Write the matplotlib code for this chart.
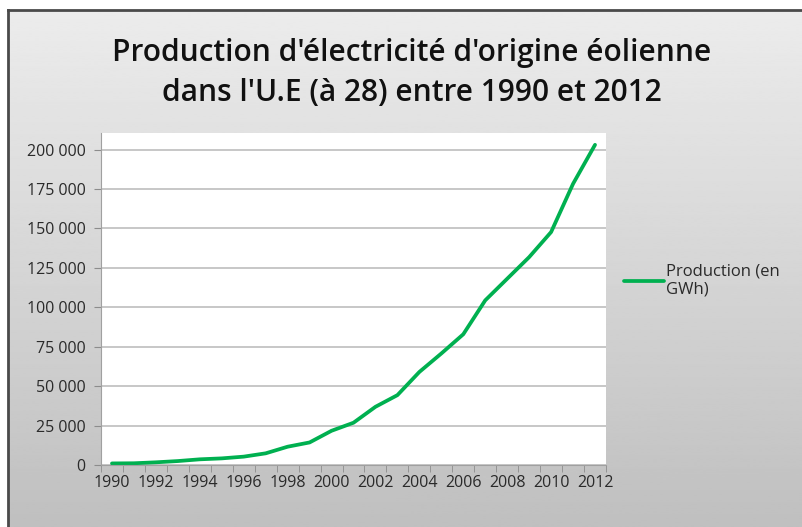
import numpy as np
import matplotlib.pyplot as plt

# Données
annees = list(range(1990, 2013))
production = [1000, 1100, 1700, 2500, 3600, 4200, 5300, 7400, 11600, 14300,
              21700, 26800, 36900, 44300, 59000, 70700, 82900, 104400, 118100,
              131800, 147700, 178300, 203000]
yticks = [0, 25000, 50000, 75000, 100000, 125000, 150000, 175000, 200000]
titre = "Production d'électricité d'origine éolienne\ndans l'U.E (à 28) entre 1990 et 2012"
legende = "Production (en\nGWh)"

plt.rcParams['font.family'] = ['Open Sans', 'DejaVu Sans']

W, H = 803, 527
fig = plt.figure(figsize=(W / 100, H / 100), dpi=100)

# fond dégradé gris
bg = fig.add_axes([0, 0, 1, 1])
bg.set_xlim(0, W)
bg.set_ylim(H, 0)
bg.axis("off")
grad = np.linspace(0.925, 0.75, 256).reshape(-1, 1)
bg.imshow(grad, cmap="gray", vmin=0, vmax=1, extent=[8, W, H, 10], aspect="auto")
bg.plot([8, 8], [H, 10], color="#4a4a4a", lw=2)
bg.plot([8, W], [10, 10], color="#4a4a4a", lw=2)

# titre
fig.text(412 / W, 1 - 73 / H, titre, ha="center", va="center", fontsize=21.5,
         fontweight="semibold", linespacing=1.45, color="#111111")

ax = fig.add_axes([101 / W, 1 - 465 / H, (606 - 101) / W, (465 - 133) / H])
x = np.arange(len(annees))
ax.plot(x, production, color="#00b050", lw=2.7, label=legende, solid_capstyle="round")

ax.set_xlim(-0.5, len(annees) - 0.5)
ax.set_ylim(0, 210500)
ax.set_yticks(yticks)
ax.set_yticklabels([f"{v:,}".replace(",", " ") for v in yticks], fontsize=11.5, color="#2a2a2a")
ax.set_xticks(x[::2])
ax.set_xticklabels([str(a) for a in annees[::2]], fontsize=11.5, color="#2a2a2a")
ax.set_xticks(np.arange(-0.5, len(annees)), minor=True)
ax.tick_params(axis="x", which="major", length=0, pad=7)
ax.tick_params(axis="x", which="minor", length=5, color="#8c8c8c")
ax.tick_params(axis="y", length=5, color="#8c8c8c", pad=6)
ax.grid(axis="y", color="#b8b8b8", lw=1.1)
ax.set_axisbelow(True)
for s in ["top", "right"]:
    ax.spines[s].set_visible(False)
for s in ["left", "bottom"]:
    ax.spines[s].set_color("#a0a0a0")

leg = ax.legend(loc="center left", bbox_to_anchor=(1.005, 0.555), frameon=False,
                fontsize=12, handlelength=2.4, handletextpad=0.12, labelcolor="#2a2a2a")

fig.savefig("out.png", dpi=100)
